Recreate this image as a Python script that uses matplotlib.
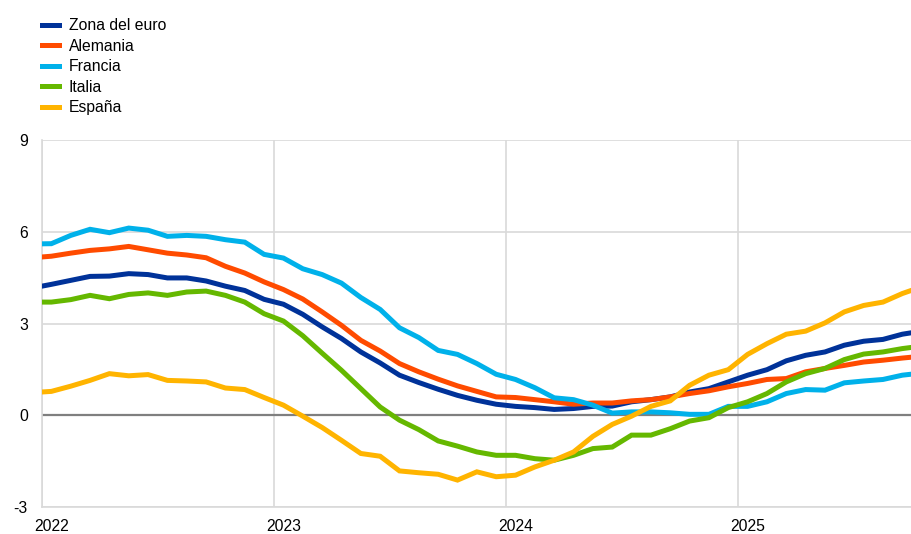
import numpy as np
import matplotlib.pyplot as plt

plt.rcParams['font.family'] = ['Liberation Sans', 'DejaVu Sans']

# monthly values, Dec 2021 .. Oct 2025 (plotted mid-month)
zona_euro = [4.16, 4.28, 4.41, 4.54, 4.55, 4.63, 4.60, 4.49, 4.49, 4.39, 4.22, 4.08, 3.79,
             3.63, 3.30, 2.89, 2.51, 2.07, 1.71, 1.31, 1.07, 0.85, 0.65, 0.49, 0.36, 0.29,
             0.25, 0.19, 0.22, 0.29, 0.30, 0.44, 0.51, 0.60, 0.76, 0.87, 1.09, 1.31, 1.49,
             1.78, 1.96, 2.07, 2.29, 2.42, 2.48, 2.65, 2.75]
alemania = [5.15, 5.20, 5.30, 5.39, 5.44, 5.52, 5.41, 5.30, 5.24, 5.15, 4.87, 4.65, 4.36,
            4.11, 3.80, 3.38, 2.94, 2.45, 2.10, 1.69, 1.42, 1.18, 0.96, 0.78, 0.60, 0.58,
            0.51, 0.44, 0.36, 0.40, 0.40, 0.47, 0.51, 0.60, 0.71, 0.80, 0.93, 1.04, 1.17,
            1.20, 1.42, 1.53, 1.63, 1.74, 1.80, 1.87, 1.93]
francia = [5.60, 5.61, 5.88, 6.08, 5.97, 6.12, 6.05, 5.85, 5.88, 5.85, 5.74, 5.66, 5.26,
           5.14, 4.79, 4.60, 4.32, 3.85, 3.46, 2.86, 2.54, 2.12, 1.99, 1.69, 1.34, 1.17,
           0.90, 0.57, 0.51, 0.33, 0.07, 0.11, 0.11, 0.08, 0.03, 0.03, 0.29, 0.29, 0.44,
           0.71, 0.84, 0.82, 1.06, 1.12, 1.17, 1.31, 1.38]
italia = [3.70, 3.70, 3.78, 3.92, 3.81, 3.95, 4.00, 3.92, 4.03, 4.06, 3.92, 3.70, 3.32,
          3.08, 2.60, 2.03, 1.47, 0.87, 0.27, -0.16, -0.47, -0.84, -1.01, -1.20, -1.31, -1.31,
          -1.42, -1.47, -1.31, -1.09, -1.04, -0.65, -0.65, -0.44, -0.19, -0.08, 0.25, 0.44, 0.71,
          1.09, 1.36, 1.53, 1.82, 2.00, 2.07, 2.18, 2.26]
espana = [0.74, 0.78, 0.95, 1.14, 1.36, 1.29, 1.33, 1.14, 1.12, 1.09, 0.89, 0.84, 0.58,
          0.33, -0.03, -0.40, -0.82, -1.25, -1.34, -1.82, -1.88, -1.93, -2.12, -1.85, -2.01, -1.96,
          -1.69, -1.47, -1.20, -0.69, -0.30, -0.03, 0.29, 0.47, 0.98, 1.31, 1.49, 1.99, 2.34,
          2.65, 2.75, 3.02, 3.38, 3.59, 3.70, 3.98, 4.20]

labels = ['Zona del euro', 'Alemania', 'Francia', 'Italia', 'España']
colors = ['#003299', '#ff4b00', '#00b1ea', '#65b800', '#ffb400']
years = [2022, 2023, 2024, 2025]

t = 2021 + (11 + 0.5) / 12 + np.arange(len(zona_euro)) / 12

fig = plt.figure(figsize=(9.12, 5.34), dpi=100)
ax = fig.add_axes([41.7 / 912, 1 - 507 / 534, 1 - 41.7 / 912, (507 - 140) / 534])

for s, lab, c in zip([zona_euro, alemania, francia, italia, espana], labels, colors):
    ax.plot(t, s, color=c, lw=3.6, label=lab, solid_joinstyle='miter', zorder=3)

ax.axhline(0, color='#7f7f7f', lw=1.6, zorder=2)

ax.set_xlim(2022, 2025.75)
ax.set_ylim(-3, 9)
ax.set_yticks([-3, 0, 3, 6, 9])
ax.set_yticklabels(['-3', '0', '3', '6', '9'])
ax.set_xticks(years)
ax.set_xticklabels([])
ax.set_xticks([y + 0.5 / 12 for y in years], minor=True)
ax.set_xticklabels([str(y) for y in years], minor=True)
ax.tick_params(axis='both', which='both', length=0, labelsize=11.3, colors='black')
ax.tick_params(axis='y', pad=10)
ax.tick_params(axis='x', which='minor', pad=8.5)

ax.grid(True, which='major', color='#d9d9d9', lw=1.2, zorder=0)
for side in ['top', 'right']:
    ax.spines[side].set_visible(False)
ax.spines['left'].set_color('#d9d9d9')
ax.spines['bottom'].set_color('#d9d9d9')
ax.spines['left'].set_linewidth(1.2)
ax.spines['bottom'].set_linewidth(1.2)

ax.legend(loc='upper left', bbox_to_anchor=(0.046, 0.966), bbox_transform=fig.transFigure,
          frameon=False, fontsize=11.3, handlelength=1.1, handletextpad=0.6,
          labelspacing=0.35, borderaxespad=0, borderpad=0)

plt.savefig('out.png', dpi=100)
